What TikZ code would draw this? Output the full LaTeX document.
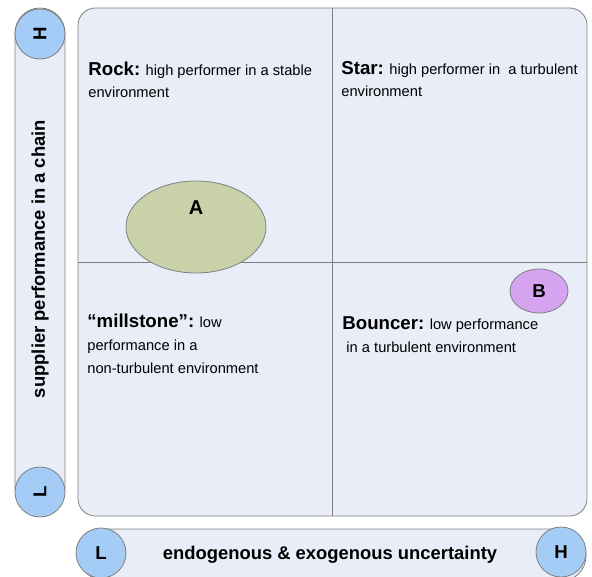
\documentclass[tikz,border=0pt]{standalone}
\usepackage{fontspec}
\setmainfont{Liberation Sans}
\usetikzlibrary{positioning,shapes}

\definecolor{panelfill}{HTML}{E9EDF8}
\definecolor{framegray}{HTML}{7F7F7F}
\definecolor{dotblue}{HTML}{A4CCF6}
\definecolor{olivefill}{HTML}{C9D1A9}
\definecolor{lilacfill}{HTML}{D6A3F0}

\begin{document}
\begin{tikzpicture}[
            x = 0.75pt, % one reference pixel
            y = -0.75pt, % y runs downwards
            semithick % line style
        ]

        \tikzstyle{panel}=[
            draw = framegray,
            fill = panelfill,
            inner sep = 0pt
        ]
        \tikzstyle{dot}=[
            circle,
            draw = framegray,
            fill = dotblue,
            minimum size = 37.5pt,
            inner sep = 0pt,
            font = \bfseries\fontsize{14}{16}\selectfont
        ]
        \tikzstyle{blob}=[
            ellipse,
            draw = framegray,
            inner sep = 0pt
        ]
        \tikzstyle{quadtext}=[
            anchor = base west, % baseline of the last line
            align = left,
            inner sep = 0pt,
            font = \fontsize{11}{17}\selectfont
        ]
        \tikzstyle{axistext}=[
            font = \bfseries\fontsize{13.8}{16}\selectfont
        ]

        \useasboundingbox (0,0) rectangle (592,577);
        \clip (0,0) rectangle (592,577);

        % matrix of four quadrants
        \node[panel, rounded corners = 13pt, minimum width = 381.75pt,
            minimum height = 381pt] (grid) at (332.5,262) {};
        \draw[framegray] (grid.north) -- (grid.south);
        \draw[framegray] (grid.west) -- (grid.east);

        % vertical axis
        \node[panel, rounded corners = 18.75pt, minimum width = 37.5pt,
            minimum height = 378.75pt] (ybar) at (40,260.5) {};
        \node[axistext, rotate = 90] (ylabel) at (40,259) {supplier performance in a chain};
        \node[dot, rotate = 90] (yhigh) at (40,34) {H};
        \node[dot, rotate = 90] (ylow) at (40,492) {L};

        % horizontal axis
        \node[panel, rounded corners = 18.75pt, minimum width = 379.5pt,
            minimum height = 39pt] (xbar) at (333,555) {};
        \node[axistext] (xlabel) at (330,555) {endogenous \& exogenous uncertainty};
        \node[dot] (xlow) at (101,553) {L};
        \node[dot] (xhigh) at (561,552) {H};

        % quadrant texts
        \node[quadtext] (rock) at (88,98)
            {{\bfseries\fontsize{14}{17}\selectfont Rock:} high performer in a stable\\environment};
        \node[quadtext] (star) at (341,97)
            {{\bfseries\fontsize{14}{17}\selectfont Star:} high performer in\ \ a turbulent\\environment};
        \node[quadtext] (millstone) at (87,373)
            {{\bfseries\fontsize{14}{17}\selectfont “millstone”:} low\\performance in a\\non-turbulent environment};
        \node[quadtext] (bouncer) at (342,352)
            {{\bfseries\fontsize{14}{17}\selectfont Bouncer:} low performance\\\ in a turbulent environment};

        % suppliers
        \node[blob, fill = olivefill, minimum width = 105pt, minimum height = 69pt] (supA) at (196,227) {};
        \node[font = \bfseries\fontsize{15}{17}\selectfont] (labA) at (196,208) {A};
        \node[blob, fill = lilacfill, minimum width = 43.5pt, minimum height = 33pt,
            font = \bfseries\fontsize{14}{16}\selectfont] (supB) at (539,291) {B};

    \end{tikzpicture}
\end{document}
